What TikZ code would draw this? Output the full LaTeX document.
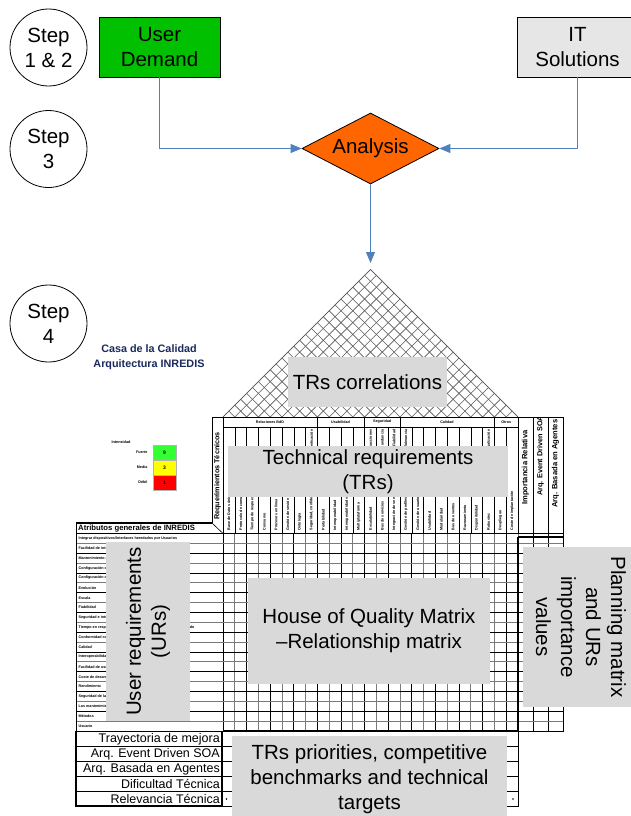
\documentclass[tikz,border=0pt]{standalone}
\usepackage{fontspec}
\setmainfont{Liberation Sans}
\usetikzlibrary{shapes.geometric,arrows.meta}

\definecolor{udgreen}{HTML}{00C000}
\definecolor{itgray}{HTML}{E6E6E6}
\definecolor{anorange}{HTML}{FF6600}
\definecolor{flowblue}{HTML}{4F81BD}
\definecolor{notegray}{HTML}{D9D9D9}
\definecolor{casablue}{HTML}{1A2A5E}
\definecolor{gridgray}{HTML}{7A7A7A}
\definecolor{lgreen}{HTML}{33FF33}
\definecolor{lyellow}{HTML}{FFFF00}
\definecolor{lred}{HTML}{FF0000}

\newcommand{\fsz}[2]{\fontsize{#1}{#2}\selectfont}

\begin{document}
\begin{tikzpicture}[x=1pt,y=-1pt,
  bigtext/.style={font=\fsz{20.5}{25}},
  stepcircle/.style={circle,draw,line width=0.8pt,minimum size=77pt,inner sep=0pt,align=center,bigtext},
  sourcebox/.style={rectangle,draw,line width=0.8pt,minimum width=121pt,minimum height=60pt,inner sep=0pt,align=center,bigtext},
  decision/.style={diamond,draw,line width=0.8pt,fill=anorange,aspect=1.93,minimum width=137pt,minimum height=71pt,inner sep=0pt,bigtext},
  flow/.style={draw=flowblue,line width=0.9pt,-{Triangle[length=11pt,width=9pt]}},
  note/.style={fill=notegray,inner sep=0pt,align=center,bigtext},
  tinylab/.style={font=\fsz{3.7}{4}\bfseries,inner sep=0.4pt},
  hdrlab/.style={font=\fsz{7.6}{9}\bfseries,inner sep=0pt},
  rowlab/.style={font=\fsz{12.5}{14},inner sep=0pt,anchor=east},
  legbox/.style={draw=gray!60,line width=0.3pt,minimum width=23pt,minimum height=15pt,inner sep=0pt,font=\fsz{5}{6}\bfseries},
  hatch/.style={draw=black!65,line width=0.6pt},
  cellline/.style={draw=black,line width=0.6pt},
  gridA/.style={draw=black,line width=1pt},
  gridB/.style={draw=gridgray,line width=1pt},
  heavy/.style={draw=black,line width=2.2pt},
]
\useasboundingbox (0,0) rectangle (630,816);
\fill[white] (0,0) rectangle (630,816);

% ---------- process steps ----------
\node[stepcircle] (s12) at (48.5,47.5) {Step\\1 \& 2};
\node[stepcircle] (s3) at (48.5,149) {Step\\3};
\node[stepcircle] (s4) at (48.5,323.5) {Step\\4};

\node[sourcebox,fill=udgreen] (ud) at (159.5,47) {User\\Demand};
\node[sourcebox,fill=itgray] (it) at (577.5,47) {IT\\Solutions};
\node[decision] (an) at (370.5,148.5) {Analysis};

\coordinate (roofin) at (370.5,263);
\draw[flow] (ud.south) |- (an.west);
\draw[flow] (it.south) |- (an.east);
\draw[flow] (an.south) -- (roofin);

% ---------- title and legend ----------
\node[font=\fsz{10.8}{15}\bfseries,text=casablue,align=center,inner sep=0pt] (casa) at (149,357.5) {Casa de la Calidad\\Arquitectura INREDIS};

\node[tinylab,font=\fsz{3.8}{4}\bfseries] (intens) at (121,442) {Intensidad};
\node[legbox,fill=lgreen] (l9) at (164.5,452.5) {9};
\node[legbox,fill=lyellow] (l3) at (164.5,467.5) {3};
\node[legbox,fill=lred] (l1) at (164.5,482.5) {1};
\node[tinylab,anchor=east] (lf) at (148,452.5) {Fuerte};
\node[tinylab,anchor=east] (lm) at (148,467.5) {Media};
\node[tinylab,anchor=east] (ld) at (148,482.5) {Débil};

% ---------- roof (correlation triangle) ----------
\foreach \i in {0,...,25}{
  \pgfmathsetmacro\bx{223+\i*11.8}
  \pgfmathsetmacro\tr{(518-\bx)/2}
  \pgfmathsetmacro\tl{(\bx-223)/2}
  \draw[hatch] (\bx,417) -- ++(\tr,-\tr);
  \draw[hatch] (\bx,417) -- ++(-\tl,-\tl);
}
\draw[hatch] (223,417) -- (370.5,269.5) -- (518,417);

% ---------- technical requirement header ----------
\draw[cellline] (223,417) rectangle (518,427);
\foreach \i in {0,...,25}{
  \pgfmathsetmacro\bx{223+\i*11.8}
  \draw[cellline] (\bx,427) -- (\bx,533.5);
}
\foreach \i in {8,12,15,23}{
  \pgfmathsetmacro\bx{223+\i*11.8}
  \draw[cellline] (\bx,417) -- (\bx,427);
}
\node[tinylab] (g1) at (270,422) {Relaciones BdD};
\node[tinylab] (g2) at (340.5,422) {Usabilidad};
\node[tinylab] (g3) at (382.2,422) {Seguridad};
\node[tinylab] (g4) at (447,422) {Calidad};
\node[tinylab] (g5) at (506.2,422) {Otros};

\foreach \lab [count=\k] in {Base de Datos única,Protocolo de comunicación,Tiempo de respuesta,Consumo,Procesos en línea,Gestión de sesión,Ontología,{Seguridad, confidencialidad},Portabilidad,Interoperabilidad,Interoperabilidad semántica,Multiplataforma,Escalabilidad,Bus de servicios,Integración de servicios,Gestión de perfiles,Gestión de usuarios,Usabilidad,Modularidad,Bus de eventos,Razonamiento,Disponibilidad,Robustez,Despliegue,Coste de implantación}{
  \pgfmathsetmacro\cx{223+(\k-0.5)*11.8}
  \node[tinylab,rotate=90,anchor=west] (tr\k) at (\cx,531) {\lab};
}
\foreach \k/\lab in {8/Autenticación,13/Transacciones,14/Redundancia,15/Fiabilidad,16/Tolerancia,23/Actualización}{
  \pgfmathsetmacro\cx{223+(\k-0.5)*11.8}
  \node[tinylab,rotate=90,anchor=east] (tt\k) at (\cx,429) {\lab};
}

% header column of technical requirements and user requirements title
\draw[cellline] (212,523) -- (212,417) -- (223,417);
\draw[cellline] (212,523) -- (223,533.5);
\draw[cellline] (76,533.5) -- (76,523) -- (212,523);
\draw[black,line width=1.2pt] (76,523) -- (212,523);
\node[hdrlab,font=\fsz{7.2}{8}\bfseries,rotate=90,anchor=west] (reqt) at (217.5,520) {Requerimientos Técnicos};
\node[hdrlab,font=\fsz{7.7}{8}\bfseries,anchor=west] (atrib) at (78,528.5) {Atributos generales de INREDIS};

% ---------- planning matrix header ----------
\draw[cellline] (518,417) rectangle (563,731);
\draw[cellline] (533,417) -- (533,731);
\draw[cellline] (548,417) -- (548,731);
\begin{scope}
  \clip (518,417.3) rectangle (563,533);
  \node[hdrlab,rotate=90,anchor=west] (imp) at (525.5,505) {Importancia Relativa};
  \node[hdrlab,font=\fsz{7.3}{9}\bfseries,rotate=90,anchor=west] (soa) at (540.5,496) {Arq. Event Driven SOA};
  \node[hdrlab,rotate=90,anchor=west] (age) at (555.5,508) {Arq. Basada en Agentes};
\end{scope}

% ---------- relationship matrix grid ----------
\foreach \i in {0,...,25}{
  \pgfmathsetmacro\bx{223+\i*11.8}
  \ifodd\i \def\gst{gridB}\else\def\gst{gridA}\fi
  \draw[\gst] (\bx,533.5) -- (\bx,731);
}
\foreach \j in {0,...,20}{
  \pgfmathsetmacro\ry{533.5+\j*9.875}
  \ifodd\j \def\gst{gridB}\else\def\gst{gridA}\fi
  \draw[\gst] (76,\ry) -- (563,\ry);
}
\draw[cellline] (76,533.5) -- (76,731);

\foreach \lab [count=\k] in {Integrar dispositivos/Interfaces heredados por Usuarios,{Facilidad de integración de nuevos dispositivos y servicios [\ldots]},Mantenimiento de la plataforma y de los servicios globales,Configuración de interfaces,Configuración de servicios,Evolución,Escala,Fiabilidad,Seguridad e integridad,Tiempo en responder a cambios de contexto del usuario en modo,Conformidad con estándares,Calidad,Interoperabilidad,Facilidad de uso,Coste de desarrollo,Rendimiento,Seguridad de la información,Los mantenimientos,Métodos,Usuario}{
  \pgfmathsetmacro\ry{533.5+(\k-0.5)*9.875}
  \node[tinylab,anchor=west] (ur\k) at (78,\ry) {\lab};
}

\draw[heavy] (518,537) -- (563,537);
\draw[heavy] (518,537) -- (518,731);
\draw[heavy] (223,731) -- (518,731);

% ---------- bottom rows ----------
\draw[cellline] (76,731) rectangle (518,806);
\foreach \j in {1,2,3,4}{
  \pgfmathsetmacro\ry{731+\j*15}
  \draw[cellline] (76,\ry) -- (518,\ry);
}
\draw[heavy] (76,731) -- (76,806) -- (222,806) -- (222,731);
\node[rowlab] (bm1) at (220,739) {Trayectoria de mejora};
\node[rowlab] (bm2) at (220,754) {Arq. Event Driven SOA};
\node[rowlab] (bm3) at (220,769) {Arq. Basada en Agentes};
\node[rowlab] (bm4) at (220,784) {Dificultad Técnica};
\node[rowlab] (bm5) at (220,799) {Relevancia Técnica};
\fill (226.5,799) circle (0.9);
\fill (513,799) circle (0.9);

% ---------- annotation boxes ----------
\node[note,minimum width=159pt,minimum height=50pt] (trcorr) at (367.5,382) {TRs correlations};
\node[note,minimum width=280pt,minimum height=51pt] (trreq) at (368,471.5) {Technical requirements\\(TRs)};
\node[note,rotate=90,minimum width=179pt,minimum height=84pt] (urreq) at (148,631.5) {User requirements\\(URs)};
\node[note,minimum width=242pt,minimum height=106pt] (hoq) at (369,631) {House of Quality Matrix\\–Relationship matrix};
\node[note,rotate=-90,minimum width=160pt,minimum height=116pt] (plan) at (581,627) {Planning matrix\\and URs\\importance\\values};
\node[note,minimum width=275pt,minimum height=86pt] (trprio) at (369.5,779) {TRs priorities, competitive\\benchmarks and technical\\targets};

\end{tikzpicture}
\end{document}
